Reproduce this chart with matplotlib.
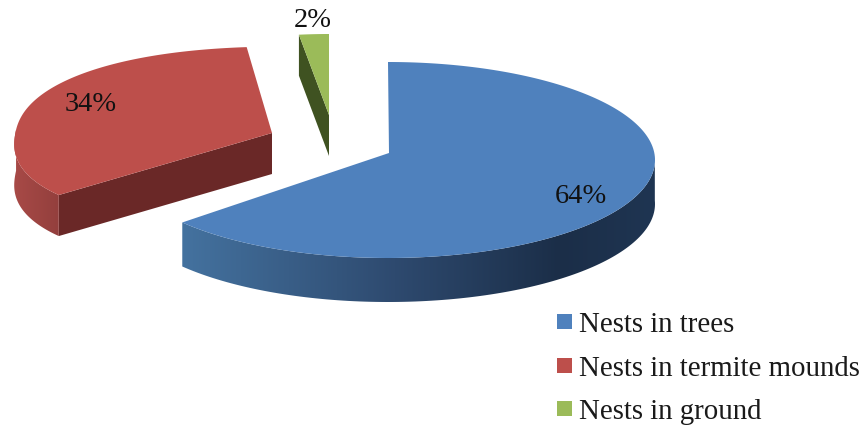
import numpy as np
import matplotlib
matplotlib.use("Agg")
import matplotlib.pyplot as plt
from matplotlib.patches import Patch, Polygon
from matplotlib.colors import LinearSegmentedColormap

labels = ["Nests in trees", "Nests in termite mounds", "Nests in ground"]
values = [64, 34, 2]
pct_labels = ["64%", "34%", "2%"]

top_colors = ["#4f81bd", "#bd4f4b", "#9bbb59"]
face_colors = ["#1c2f4a", "#6a2827", "#3f5221"]

# per-slice projection: ellipse centre, radii, skew, roundness, apex, depth (pixels)
geom = [
    dict(cx=388, cy=160, rx=267, ry=98, s=0, p=1.0, ax=389, ay=153, d=44),
    dict(cx=274.5, cy=135.3, rx=259.5, ry=88.8, s=14, p=0.88, ax=272, ay=133, d=41),
    dict(cx=329, cy=124, rx=240, ry=90, s=0, p=1.0, ax=329, ay=115, d=41),
]
label_xy = [(581, 196), (91, 104), (313, 20)]

plt.rcParams["font.family"] = "Liberation Serif"
fig = plt.figure(figsize=(8.66, 4.25), dpi=100)
ax = fig.add_axes([0, 0, 1, 1])
ax.axis("off")


def pt(g, t):
    c = np.sign(np.cos(t)) * np.abs(np.cos(t)) ** g["p"]
    s = np.sign(np.sin(t)) * np.abs(np.sin(t)) ** g["p"]
    return g["cx"] + g["rx"] * c + g["s"] * s, g["cy"] - g["ry"] * s


side_cmaps = [
    LinearSegmentedColormap.from_list("b", [(0, "#44729f"), (0.45, "#2e4a6f"), (0.8, "#1b2e48"), (1, "#1f3552")]),
    LinearSegmentedColormap.from_list("r", ["#a84a47", "#933f3d"]),
    None,
]

# cumulative angles, clockwise from 12 o'clock
edges = 90 - 360 * np.cumsum([0] + values) / sum(values)


def draw_slice(i, z):
    g = geom[i]
    a0, a1 = np.radians(edges[i]), np.radians(edges[i + 1])
    xs, ys = pt(g, np.linspace(a0, a1, 200))
    d = g["d"]
    # flat cut face toward the viewer
    if i in (1, 2):
        sx, sy = pt(g, a0)
        ax.fill([g["ax"], sx, sx, g["ax"]], [g["ay"], sy, sy + d, g["ay"] + d],
                color=face_colors[i], lw=0, zorder=z)
    # curved outer side with a horizontal gradient
    if side_cmaps[i] is not None:
        lo, hi = (a1, np.radians(2)) if i == 0 else (a0 - np.radians(42), a0)
        qx, qy = pt(g, np.linspace(lo, hi, 120))
        poly = Polygon(np.c_[np.r_[qx, qx[::-1]], np.r_[qy, qy[::-1] + d]],
                       closed=True, transform=ax.transData, fc="none", ec="none")
        ax.add_patch(poly)
        im = ax.imshow(np.linspace(0, 1, 256)[None, :], cmap=side_cmaps[i], aspect="auto",
                       extent=(qx.min(), qx.max(), qy.max() + d, qy.min()), zorder=z)
        im.set_clip_path(poly)
    # top surface
    ax.fill(np.r_[g["ax"], xs], np.r_[g["ay"], ys], color=top_colors[i], lw=0, zorder=z + 0.5)


for z, i in enumerate([1, 2, 0]):
    draw_slice(i, z + 1)

ax.set_xlim(0, 866)
ax.set_ylim(425, 0)
ax.set_aspect("auto")

for s, (x, y) in zip(pct_labels, label_xy):
    ax.text(x, y, s, ha="center", va="center", fontsize=20.5, color="#111111", zorder=9)

handles = [Patch(facecolor=c, edgecolor="none") for c in top_colors]
fs = 20.8
px = fs * 100 / 72
ax.legend(handles, labels, loc="upper left", bbox_to_anchor=(557, 312),
          bbox_transform=ax.transData, frameon=False, fontsize=fs,
          borderpad=0, borderaxespad=0, handlelength=15 / px, handleheight=12 / px,
          handletextpad=7 / px, labelspacing=0.61, labelcolor="#1a1a1a")

fig.savefig("out.png", dpi=100)
